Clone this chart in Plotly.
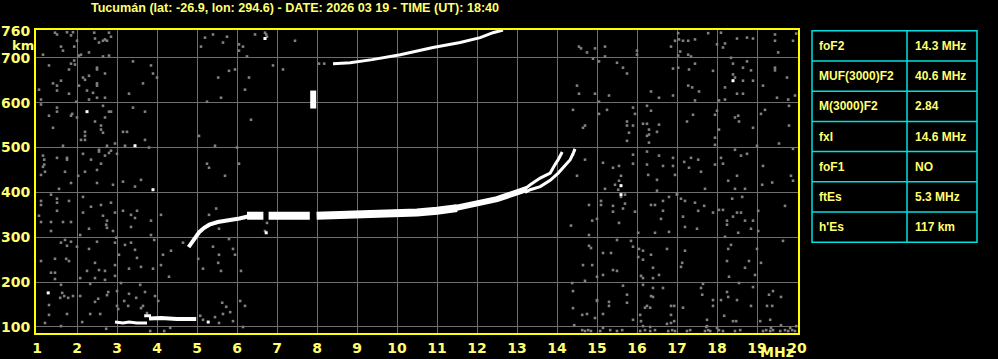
import plotly.graph_objects as go

# ---------------- data ----------------
TITLE = "Tucumán (lat: -26.9, lon: 294.6) - DATE: 2026 03 19 - TIME (UT): 18:40"
FREQ_TICKS = list(range(1, 21))
HEIGHT_TICKS = [100, 200, 300, 400, 500, 600, 700, 760]

TABLE_LABELS = ["foF2", "MUF(3000)F2", "M(3000)F2", "fxI", "foF1", "ftEs", "h'Es"]
TABLE_VALUES = ["14.3 MHz", "40.6 MHz", "2.84", "14.6 MHz", "NO", "5.3 MHz", "117 km"]

# F2 trace: thin low part, thick band (with gaps), rising part, O and X branches
F2_THIN_F = [4.79, 4.89, 4.98, 5.06, 5.18, 5.31, 5.52, 5.81, 6.06, 6.3]
F2_THIN_H = [278, 291, 303, 312, 321, 328, 334, 338, 342, 347]
F2_BAND_F = [6.25, 6.66, None, 6.79, 7.82, None, 7.99, 9.0, 10.0, 10.5, 11.0, 11.5]
F2_BAND_H = [348, 348, None, 348, 348, None, 348, 350, 353, 355, 359, 365]
F2_RISE_F = [11.4, 12.0, 12.5, 13.0, 13.25]
F2_RISE_H = [364, 374, 385, 400, 408]
F2_O_F = [13.2, 13.33, 13.58, 13.83, 13.95, 14.03, 14.13]
F2_O_H = [408, 417, 432, 443, 462, 473, 490]
F2_X_F = [13.2, 13.33, 13.58, 13.83, 14.03, 14.2, 14.33, 14.41, 14.45]
F2_X_H = [400, 406, 413, 427, 443, 460, 473, 488, 497]

# second-hop trace
UPPER_F = [8.4, 8.83, 9.38, 10.08, 10.9, 11.58, 12.08, 12.4, 12.65]
UPPER_H = [687, 689, 696, 707, 723, 734, 745, 756, 762]

# isolated vertical echo near 7.9 MHz
BAR_F = [7.905, 7.905]
BAR_H = [587, 627]

# sporadic E traces
ES_LOW_F = [2.95, 3.15, 3.3, 3.5, 3.75]
ES_LOW_H = [111, 109, 111, 109, 109]
ES_STEP_F = [3.68, 3.85]
ES_STEP_H = [125, 125]
ES_HIGH_F = [3.8, 4.1, 4.5, 4.98]
ES_HIGH_H = [119, 120, 118, 118]

# gray noise echoes
NOISE_F = [
    14.55, 14.6, 14.75, 14.95, 15.2, 14.9, 15.2, 15.05, 15.5, 15.65, 15.75, 14.5, 14.55, 14.95, 15.3, 15.05,
    16.0, 16.0, 16.35, 16.55, 16.9, 16.85, 16.95, 17.03, 17.05, 17.15, 17.28, 17.45, 17.78, 18.0, 17.08, 17.28,
    17.35, 17.03, 17.03, 17.3, 17.45, 17.9, 17.28, 17.38, 17.55, 17.45, 16.9, 18.1, 18.2, 18.15, 18.5, 18.75,
    18.9, 18.35, 18.4, 18.65, 18.75, 18.85, 18.4, 18.45, 18.65, 18.9, 18.2, 18.5, 18.65, 18.2, 18.05, 19.45,
    19.45, 19.53, 19.9, 19.98, 19.45, 19.45, 19.75, 19.15, 19.5, 19.78, 19.95,
    14.4, 14.7, 14.65, 15.05, 15.25, 15.9, 15.95, 15.75, 15.75, 15.9, 15.8, 15.75, 16.25, 16.35, 16.15, 16.25,
    16.55, 16.3, 16.3, 16.25, 16.5, 16.3, 17.4, 17.25, 17.95, 18.0, 18.45, 18.53, 18.55, 18.05, 17.95, 17.95,
    18.9, 19.2, 19.1, 19.8, 19.8, 19.55, 19.0,
    14.43, 14.4, 14.7, 14.5, 15.15, 15.4, 15.55, 15.9, 15.9, 15.6, 16.25, 16.25, 16.28, 16.55, 16.65, 16.9,
    16.9, 16.95, 17.18, 17.35, 17.3, 17.6, 17.53, 17.95, 18.1, 18.15, 18.45, 18.6, 18.75, 18.5, 19.15, 19.9,
    19.85,
    15.55, 15.2, 15.45, 15.53, 15.7, 15.6, 16.5, 16.5, 17.0, 17.7, 18.28, 18.45, 18.7, 19.13, 19.38, 19.9,
    14.8, 15.1, 15.1, 15.4, 15.65, 15.7, 15.4, 15.95, 14.88, 15.0, 14.35, 14.8, 15.55, 16.35, 16.45, 16.65,
    16.65, 16.8, 17.0, 17.1, 17.2, 17.45, 17.68, 17.53, 17.9, 17.15, 17.2, 17.5, 16.6, 16.45, 16.8, 16.03,
    18.05, 18.15, 18.38, 18.63, 18.5, 18.6, 18.25, 18.4, 18.25, 18.7, 18.9, 18.53, 18.85, 19.03, 19.03, 19.7,
    18.2,
    14.85, 14.8, 15.15, 15.35, 15.5, 15.85, 15.9, 16.05, 16.15, 16.03, 16.15, 16.35, 16.75, 17.2, 17.13, 17.1,
    14.65, 14.88, 15.4, 15.5, 15.15, 15.0, 14.7, 16.1, 16.15, 16.4, 16.4, 16.55, 18.28, 18.35, 18.25, 18.8,
    18.7, 18.95, 19.0, 19.1, 19.65, 18.3, 18.55,
    14.38, 14.4, 15.0, 15.0, 15.3, 15.3, 15.65, 15.75, 15.75, 16.15, 16.4, 16.4, 16.35, 16.65, 16.25, 16.33,
    16.2, 16.85, 16.93, 17.15, 17.6, 17.63, 17.9, 17.9, 18.1, 18.25, 18.28, 18.5, 18.18, 18.4, 18.85, 19.25,
    19.38, 19.3, 19.4, 19.6, 18.9, 17.65,
    14.63, 14.75, 14.95, 15.15, 14.4, 14.43, 15.9, 16.08, 16.1, 16.15, 16.85, 16.85, 16.93, 16.75, 17.75, 17.75,
    18.0, 18.48, 19.08, 19.33, 19.6, 19.98,
    14.63, 14.7, 14.78, 14.85, 15.08, 15.33, 15.5, 15.63, 16.08, 16.2, 16.33, 16.45, 16.78, 16.88, 16.95, 17.25,
    17.33, 17.7, 17.78, 17.83, 18.05, 18.15, 18.45, 18.58, 19.15, 19.23, 19.33, 19.4, 19.58, 19.7, 19.78, 19.88,
    19.95, 15.15, 16.33, 17.73, 19.35, 19.83,
    1.45, 1.5, 1.75, 1.9, 1.85, 2.0, 1.6, 1.65, 1.93, 1.15, 2.05, 2.1, 2.3, 2.43, 2.45, 2.55,
    2.65, 2.7, 2.75, 2.8, 2.85, 2.8, 2.65, 1.3, 1.8, 1.85, 1.93, 1.95, 2.5, 2.5, 2.7, 2.15,
    2.2, 2.3, 2.05, 1.6, 1.4, 1.5, 1.05, 1.5, 1.8, 2.5, 2.5, 2.25, 2.4, 2.5, 2.3, 2.7,
    1.1, 1.1, 1.98, 3.4, 3.85, 3.9, 4.0, 3.65, 3.3, 1.5, 1.5, 1.3, 1.85, 1.88, 2.0, 1.4,
    2.65, 2.8, 2.85, 2.7, 2.45, 2.6, 2.6, 2.65, 2.2, 2.2, 2.1, 2.2, 1.65, 2.75, 2.95, 3.4,
    3.7, 3.15, 3.25, 3.7, 3.2, 3.8, 1.15, 1.18, 1.18, 1.15, 1.5, 1.75, 1.75, 1.1, 1.2, 1.7,
    2.03, 2.15, 2.35, 2.55, 2.55, 2.7, 2.8, 2.85, 3.0, 2.6, 2.5, 2.2,
    5.05, 5.45, 5.25, 5.3, 5.7, 5.2, 5.4, 5.65, 5.75, 5.1, 6.05, 6.05, 6.15, 6.25, 6.45, 5.8,
    5.95, 5.53, 6.3, 6.2, 5.6, 5.25, 6.35, 6.0, 6.05, 6.7, 6.73, 6.75, 6.7, 7.45, 6.9, 7.15,
    8.05, 8.18,
    1.85, 2.5, 3.15, 3.6, 2.9, 3.45, 1.55, 1.35, 1.1, 1.1, 1.5, 1.5, 1.5, 1.8, 2.15, 2.35,
    2.15, 2.6, 2.85, 2.95, 1.05, 1.1, 1.35, 1.65, 1.85, 1.35, 2.3, 2.08, 2.65, 2.75, 2.73, 2.9,
    2.75, 3.15, 3.35, 3.45, 3.5, 3.35, 3.85, 3.85, 4.1,
    1.6, 1.7, 1.75, 1.85, 2.0, 2.3, 2.5, 2.98, 2.95, 3.05, 3.2, 3.35, 3.45, 3.5, 3.93, 4.15,
    4.35, 4.65, 1.1, 1.45, 1.73, 1.8, 2.45, 2.55, 2.25, 2.7, 2.95, 2.95, 3.3, 3.6, 3.9, 4.1,
    1.35, 1.45, 1.45, 2.08, 2.45, 2.7, 3.1, 1.6, 4.3, 5.03, 5.15, 5.4, 5.55, 5.53, 5.6, 5.8,
    5.9, 5.95, 6.1, 5.48, 5.3, 5.55, 6.75, 6.7,
    1.58, 1.63, 1.68, 1.78, 1.9, 2.08, 2.33, 2.45, 2.53, 2.75, 2.78, 3.0, 3.3, 3.48, 3.28, 3.65,
    3.75, 3.6, 2.33, 2.58, 3.0, 3.18, 3.58, 3.7, 3.95, 4.03, 1.3, 1.3, 1.2, 1.75, 1.6, 2.13,
    2.73, 3.03, 3.83, 4.18, 4.33, 5.08, 5.15, 5.45, 5.55, 5.65, 5.73, 5.63, 5.83, 5.9, 6.08, 6.2,
    6.15,
]
NOISE_H = [
    725, 721, 712, 721, 725, 698, 703, 692, 689, 678, 665, 638, 620, 620, 616, 602,
    716, 707, 625, 611, 616, 725, 738, 755, 741, 738, 738, 741, 755, 730, 714, 707,
    703, 705, 678, 674, 687, 671, 638, 634, 625, 605, 676, 756, 732, 723, 743, 745,
    743, 700, 687, 678, 692, 672, 663, 656, 649, 649, 634, 620, 620, 607, 605, 752,
    738, 712, 738, 754, 678, 672, 656, 638, 611, 607, 616,
    584, 549, 544, 575, 584, 589, 575, 558, 549, 549, 533, 515, 593, 582, 553, 553,
    551, 540, 529, 526, 535, 511, 573, 558, 573, 582, 567, 571, 558, 540, 522, 506,
    544, 584, 575, 593, 549, 509, 504,
    493, 484, 473, 437, 466, 455, 459, 484, 464, 437, 491, 462, 439, 482, 459, 477,
    459, 439, 468, 477, 455, 446, 473, 462, 477, 464, 495, 482, 486, 437, 459, 497,
    437,
    426, 408, 417, 406, 395, 390, 428, 404, 397, 408, 426, 408, 408, 417, 422, 426,
    372, 381, 372, 370, 364, 375, 357, 357, 337, 341, 326, 305, 332, 372, 372, 381,
    359, 390, 395, 386, 381, 377, 370, 359, 355, 346, 323, 319, 341, 310, 312, 310,
    361, 361, 386, 390, 355, 355, 337, 346, 328, 337, 337, 310, 319, 359, 314, 370,
    301,
    276, 281, 265, 265, 294, 292, 279, 274, 270, 256, 250, 261, 274, 270, 243, 234,
    238, 238, 227, 225, 216, 212, 203, 214, 209, 232, 209, 216, 274, 283, 247, 247,
    232, 216, 274, 243, 292, 212, 198,
    198, 180, 160, 158, 156, 147, 192, 172, 154, 194, 187, 167, 169, 187, 147, 143,
    143, 147, 147, 143, 187, 172, 160, 147, 160, 178, 167, 160, 125, 113, 147, 147,
    147, 172, 180, 167, 189, 196,
    127, 129, 120, 129, 142, 104, 116, 127, 113, 102, 127, 109, 113, 107, 116, 102,
    98, 113, 113, 116, 104, 102,
    93, 91, 93, 91, 91, 93, 91, 93, 91, 93, 91, 93, 91, 93, 91, 91,
    93, 91, 93, 91, 93, 91, 91, 93, 91, 93, 91, 93, 91, 93, 91, 93,
    91, 98, 100, 100, 98, 98,
    756, 752, 757, 757, 750, 738, 725, 716, 725, 707, 705, 707, 712, 756, 743, 734,
    738, 741, 738, 756, 747, 705, 703, 683, 674, 687, 694, 685, 678, 674, 665, 656,
    651, 660, 638, 649, 643, 638, 629, 627, 620, 643, 638, 627, 622, 611, 607, 611,
    607, 596, 602, 692, 683, 665, 656, 643, 620, 589, 580, 571, 571, 575, 567, 544,
    593, 580, 580, 567, 558, 549, 540, 533, 535, 526, 517, 517, 504, 504, 509, 589,
    580, 535, 535, 517, 504, 500, 482, 473, 462, 457, 477, 477, 473, 439, 446, 446,
    437, 486, 473, 495, 491, 482, 488, 493, 486, 464, 450, 446,
    526, 504, 464, 455, 437, 745, 752, 734, 747, 725, 730, 716, 725, 703, 752, 671,
    674, 656, 656, 629, 611, 602, 562, 500, 464, 756, 752, 747, 743, 738, 683, 674,
    687, 687,
    421, 421, 424, 428, 417, 413, 408, 395, 381, 372, 386, 377, 359, 381, 390, 368,
    355, 372, 377, 355, 348, 334, 334, 334, 334, 314, 319, 305, 348, 337, 328, 314,
    321, 359, 350, 343, 359, 323, 337, 305, 350,
    288, 294, 281, 290, 279, 274, 290, 299, 288, 261, 283, 288, 272, 254, 294, 261,
    270, 288, 247, 252, 252, 247, 243, 227, 225, 225, 238, 214, 230, 234, 230, 238,
    221, 221, 207, 209, 209, 205, 198, 194, 212, 252, 230, 279, 261, 243, 225, 296,
    274, 261, 225, 364, 350, 319, 332, 314,
    165, 176, 169, 165, 169, 169, 196, 156, 163, 171, 178, 180, 174, 165, 147, 147,
    131, 142, 129, 129, 147, 158, 194, 178, 169, 158, 149, 127, 109, 129, 102, 111,
    96, 140, 91, 91, 98, 125, 116, 122, 109, 129, 145, 154, 133, 113, 158, 147,
    100,
]
# bright isolated echoes
WHITE_F = [18.4, 15.6, 15.6, 2.25, 3.45, 6.7, 3.9, 1.28, 5.28, 6.73]
WHITE_H = [649, 415, 395, 580, 504, 743, 406, 176, 111, 310]

# ---------------- style ----------------
BG = "#000000"
YELLOW_AXIS = "#ffff00"
YELLOW_TEXT = "#ffff70"
CYAN = "#00e0e0"
GRID = "#6e6e6e"
NOISE = "#808080"

fig = go.Figure()

fig.add_trace(go.Scatter(x=NOISE_F, y=NOISE_H, mode="markers",
                         marker=dict(symbol="square", size=2.6, color=NOISE, line=dict(width=0)),
                         hoverinfo="skip"))
fig.add_trace(go.Scatter(x=WHITE_F, y=WHITE_H, mode="markers",
                         marker=dict(symbol="square", size=3, color="#ffffff", line=dict(width=0)),
                         hoverinfo="skip"))


def line(xs, ys, w):
    fig.add_trace(go.Scatter(x=xs, y=ys, mode="lines", connectgaps=False,
                             line=dict(color="#ffffff", width=w), hoverinfo="skip"))


line(F2_THIN_F, F2_THIN_H, 4)
line(F2_BAND_F, F2_BAND_H, 8)
line(F2_RISE_F, F2_RISE_H, 6)
line(F2_O_F, F2_O_H, 3)
line(F2_X_F, F2_X_H, 3)
line(UPPER_F, UPPER_H, 3)
line(BAR_F, BAR_H, 6)
line(ES_LOW_F, ES_LOW_H, 3)
line(ES_STEP_F, ES_STEP_H, 3)
line(ES_HIGH_F, ES_HIGH_H, 4)

# plot area in pixels: x 36..798, y 30..333
L, R, T, B = 36, 200, 30, 26
PW = 998 - L - R
PH = 359 - T - B


def px(xp):
    return (xp - L) / PW


def py(yp):
    return (359 - B - yp) / PH


tick_font = dict(family="DejaVu Sans", size=14, color=YELLOW_TEXT)

fig.update_xaxes(range=[0.975, 20.025], tickvals=FREQ_TICKS, ticktext=["<b>%d</b>" % v for v in FREQ_TICKS],
                 showgrid=True, gridcolor=GRID, gridwidth=1, zeroline=False, automargin=False,
                 showline=True, linecolor=YELLOW_AXIS, linewidth=2, mirror=True,
                 ticks="outside", ticklen=1, tickcolor=BG, tickfont=tick_font)
fig.update_yaxes(range=[86.6, 762], tickvals=HEIGHT_TICKS, ticktext=["<b>%d</b>" % v for v in HEIGHT_TICKS],
                 showgrid=True, gridcolor=GRID, gridwidth=1, zeroline=False, automargin=False,
                 showline=True, linecolor=YELLOW_AXIS, linewidth=2, mirror=True,
                 ticks="outside", ticklen=1, tickcolor=BG, tickfont=tick_font)

shapes = []
# table
row_top = 30.7
row_h = 30.23
tx0, tx1, tdiv = 812, 977, 907
n = len(TABLE_LABELS)
shapes.append(dict(type="rect", xref="paper", yref="paper", x0=px(tx0), x1=px(tx1),
                   y0=py(row_top), y1=py(row_top + n * row_h), line=dict(color=CYAN, width=1.5)))
shapes.append(dict(type="line", xref="paper", yref="paper", x0=px(tdiv), x1=px(tdiv),
                   y0=py(row_top), y1=py(row_top + n * row_h), line=dict(color=CYAN, width=1.5)))
for i in range(1, n):
    shapes.append(dict(type="line", xref="paper", yref="paper", x0=px(tx0), x1=px(tx1),
                       y0=py(row_top + i * row_h), y1=py(row_top + i * row_h),
                       line=dict(color=CYAN, width=1.5)))

annotations = []
cell_font = dict(family="Liberation Sans", size=12, color=YELLOW_TEXT)
for i, (lab, val) in enumerate(zip(TABLE_LABELS, TABLE_VALUES)):
    yc = py(row_top + (i + 0.5) * row_h)
    annotations.append(dict(xref="paper", yref="paper", x=px(817), y=yc, text="<b>%s</b>" % lab,
                            showarrow=False, xanchor="left", yanchor="middle", font=cell_font))
    annotations.append(dict(xref="paper", yref="paper", x=px(913), y=yc, text="<b>%s</b>" % val,
                            showarrow=False, xanchor="left", yanchor="middle", font=cell_font))

annotations.append(dict(xref="paper", yref="paper", x=px(23), y=py(45.5), text="<b>km</b>", showarrow=False,
                        xanchor="center", yanchor="middle",
                        font=dict(family="DejaVu Sans", size=13, color=YELLOW_TEXT)))
annotations.append(dict(xref="paper", yref="paper", x=px(777), y=py(352), text="<b>MHz</b>", showarrow=False,
                        xanchor="center", yanchor="middle", font=tick_font))

fig.update_layout(
    width=998, height=359,
    margin=dict(l=L, r=R, t=T, b=B, pad=0),
    paper_bgcolor=BG, plot_bgcolor=BG,
    showlegend=False,
    title=dict(text="<b>%s</b>" % TITLE, x=px(295), xref="paper", xanchor="center",
               y=1 - 8 / 359, yref="container", yanchor="middle",
               font=dict(family="Liberation Sans", size=12.6, color=YELLOW_TEXT)),
    shapes=shapes,
    annotations=annotations,
)

fig.write_html("out.html", config={"displayModeBar": False},
               post_script="document.body.style.margin='0';document.body.style.background='#000';")
